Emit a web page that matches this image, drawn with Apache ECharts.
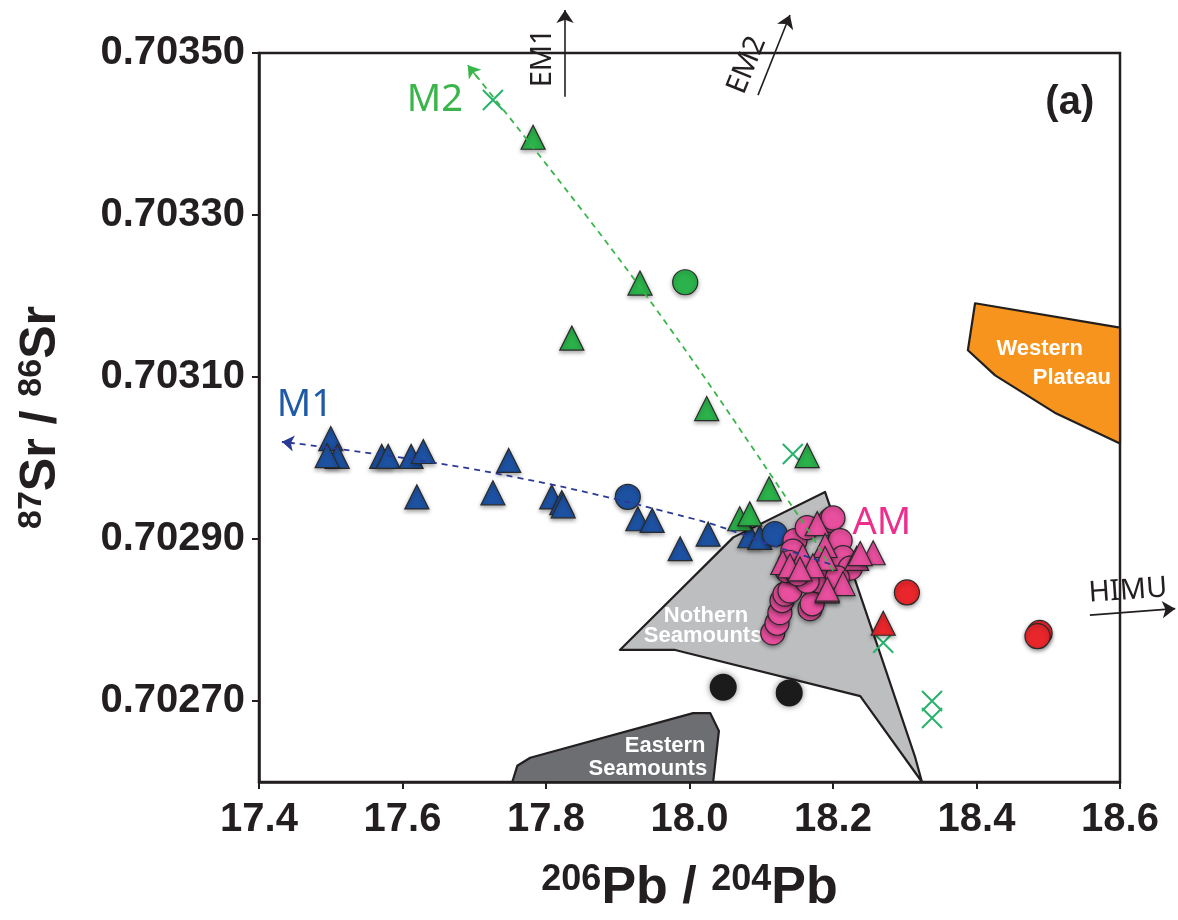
<!DOCTYPE html>
<html>
<head>
<meta charset="utf-8">
<title>Sr-Pb isotopes (a)</title>
<script src="https://cdn.jsdelivr.net/npm/echarts@6/dist/echarts.min.js"></script>
<style>
  html, body { margin: 0; padding: 0; background: #fff; }
  #chart { width: 1178px; height: 920px; }
</style>
</head>
<body>
<div id="chart"></div>
<script>
// axis ticks
const xTicks = [17.4, 17.6, 17.8, 18.0, 18.2, 18.4, 18.6];
const yTicks = [0.7027, 0.7029, 0.7031, 0.7033, 0.7035];

// samples  [206Pb/204Pb, 87Sr/86Sr]
const blueTriangles = [[17.500, 0.703024], [17.509, 0.703002], [17.495, 0.703003], [17.571, 0.703002],
  [17.580, 0.703002], [17.612, 0.703002], [17.629, 0.703008], [17.620, 0.702952], [17.726, 0.702957],
  [17.748, 0.702997], [17.808, 0.702952], [17.822, 0.702945], [17.824, 0.702941], [17.928, 0.702925],
  [17.948, 0.702923], [17.987, 0.702888], [18.026, 0.702906], [18.084, 0.702904], [18.098, 0.702902]];
const blueCircles = [[17.914, 0.702952], [18.119, 0.702906]];
const greenTriangles = [[17.782, 0.703396], [17.931, 0.703216], [17.836, 0.703148], [18.024, 0.703061],
  [18.164, 0.703003], [18.111, 0.702962], [18.070, 0.702925], [18.084, 0.702931]];
const greenCircles = [[17.994, 0.703217]];
const greenCrosses = [[17.726, 0.703442], [18.144, 0.703005], [18.270, 0.702772], [18.338, 0.702700], [18.338, 0.702679]];
const magentaCircles = [[18.116, 0.702784], [18.122, 0.702796], [18.126, 0.702809], [18.129, 0.702824],
  [18.133, 0.702832], [18.140, 0.702836], [18.168, 0.702814], [18.171, 0.702820], [18.147, 0.702898],
  [18.144, 0.702885], [18.140, 0.702871], [18.136, 0.702861], [18.164, 0.702914], [18.196, 0.702923],
  [18.200, 0.702926], [18.210, 0.702898], [18.214, 0.702877], [18.224, 0.702864], [18.186, 0.702857],
  [18.182, 0.702848], [18.164, 0.702848], [18.151, 0.702857], [18.206, 0.702852]];
const magentaTriangles = [[18.178, 0.702919], [18.158, 0.702879], [18.189, 0.702892], [18.189, 0.702876],
  [18.214, 0.702845], [18.192, 0.702836], [18.233, 0.702876], [18.256, 0.702883], [18.238, 0.702882],
  [18.130, 0.702871], [18.140, 0.702867], [18.172, 0.702867], [18.154, 0.702863], [18.192, 0.702838]];
const redCircles = [[18.303, 0.702834], [18.488, 0.702784], [18.485, 0.702780]];
const redTriangles = [[18.270, 0.702796]];
const blackCircles = [[18.047, 0.702717], [18.139, 0.702710]];

// fields
const westernPlateau = [[18.398, 0.703191], [18.600, 0.703161], [18.600, 0.703018], [18.509, 0.703056],
  [18.426, 0.703102], [18.388, 0.703133]];
const northernSeamounts = [[17.903, 0.702763], [18.061, 0.702902], [18.189, 0.702958], [18.266, 0.702758],
  [18.314, 0.702632], [18.324, 0.702600], [18.238, 0.702706], [17.980, 0.702763]];
const easternSeamounts = [[17.753, 0.702600], [17.760, 0.702620], [17.778, 0.702630], [18.005, 0.702685],
  [18.029, 0.702685], [18.041, 0.702663], [18.033, 0.702600]];

// mixing trends and end-member arrows
const m1Trend = [[18.196, 0.702869], [18.126, 0.702889], [18.005, 0.702925], [17.712, 0.702984], [17.432, 0.703020]];
const m2Trend = [[18.200, 0.702861], [18.154, 0.702926], [17.931, 0.703211], [17.691, 0.703485]];
const em1Arrow = [[17.8265, 0.703446], [17.8265, 0.703553]];
const em2Arrow = [[18.0955, 0.703448], [18.140, 0.703547]];
const himuArrow = [[18.558, 0.702806], [18.677, 0.702814]];

// text annotations
const noteText = ['M1', 'M2', 'AM', 'EM1', 'EM2', 'HIMU', '(a)'];
const notePos = [[17.464, 0.703065], [17.645, 0.703442], [18.268, 0.702920], [17.796, 0.703494],
  [18.080, 0.703485], [18.611, 0.702836], [18.530, 0.703438]];
const fieldText = ['Western', 'Plateau', 'Nothern', 'Seamounts', 'Eastern', 'Seamounts'];
const fieldPos = [[18.488, 0.703135], [18.533, 0.703099], [18.023, 0.702805], [18.019, 0.702780],
  [17.966, 0.702644], [17.942, 0.702616]];

const ink = '#231f20';
const fontA = 'Liberation Sans, Arial, sans-serif';
const fontB = 'Noto Sans, Open Sans, sans-serif';

const chart = echarts.init(document.getElementById('chart'));

function markerStyle(color) {
  return {
    color: color,
    opacity: 1,
    borderColor: '#2a2a2a',
    borderWidth: 1.2,
    shadowBlur: 4,
    shadowOffsetY: 2,
    shadowColor: 'rgba(0,0,0,0.35)'
  };
}

function scatter(name, data, symbol, size, color, z) {
  return {
    name: name, type: 'scatter', data: data, symbol: symbol, symbolSize: size,
    itemStyle: markerStyle(color), z: z, silent: true
  };
}

function field(name, pts, fill) {
  return {
    name: name, type: 'custom', data: [pts[0]], z: 1, silent: true,
    renderItem: function (params, api) {
      return {
        type: 'polygon',
        shape: { points: pts.map(function (p) { return api.coord(p); }) },
        style: { fill: fill, stroke: ink, lineWidth: 2.2, lineJoin: 'round' }
      };
    }
  };
}

// arrowhead drawn on a tiny last piece of a trend
function arrowHead(trend, color, size) {
  const tip = trend[trend.length - 1];
  const prev = trend[trend.length - 2];
  const tail = [tip[0] + (prev[0] - tip[0]) * 0.06, tip[1] + (prev[1] - tip[1]) * 0.06];
  return {
    type: 'lines', coordinateSystem: 'cartesian2d', z: 6, silent: true,
    symbol: ['none', 'arrow'], symbolSize: size,
    lineStyle: { color: color, width: 1.6, opacity: 1 },
    data: [{ coords: [tail, tip] }]
  };
}

function arrow(pts) {
  return {
    type: 'lines', coordinateSystem: 'cartesian2d', z: 6, silent: true, clip: false,
    symbol: ['none', 'arrow'], symbolSize: 13,
    lineStyle: { color: ink, width: 1.6, opacity: 1 },
    data: [{ coords: pts }]
  };
}

function trend(pts, color) {
  return {
    type: 'line', data: pts, smooth: 0.4, showSymbol: false, z: 5, silent: true,
    lineStyle: { color: color, width: 1.8, type: [6, 5] }
  };
}

const noteStyle = [
  { color: '#1f5aa6', fontSize: 38, fontFamily: fontB },
  { color: '#39b54a', fontSize: 38, fontFamily: fontB },
  { color: '#ec2f8c', fontSize: 38, fontFamily: fontB },
  { color: ink, fontSize: 29, fontFamily: fontB, rotate: 90 },
  { color: ink, fontSize: 29, fontFamily: fontB, rotate: 68 },
  { color: ink, fontSize: 29, fontFamily: fontB, rotate: 4 },
  { color: ink, fontSize: 40, fontFamily: fontA, fontWeight: 'bold' }
];

const notes = noteText.map(function (t, i) {
  return {
    value: notePos[i],
    label: Object.assign({ show: true, position: 'inside', formatter: t, opacity: 1 }, noteStyle[i])
  };
});

const fieldNotes = fieldText.map(function (t, i) {
  return {
    value: fieldPos[i],
    label: { show: true, position: 'inside', formatter: t, color: '#fff', fontSize: 22, opacity: 1,
      fontWeight: 'bold', fontFamily: fontA }
  };
});

const option = {
  backgroundColor: '#fff',
  animation: false,
  grid: { left: 259, right: 58, top: 53, bottom: 138, show: true, borderColor: ink, borderWidth: 2.5 },
  xAxis: {
    type: 'value', min: 17.4, max: 18.6, interval: 0.2,
    name: '{sup|206}{big|Pb / }{sup|204}{big|Pb}',
    nameLocation: 'middle', nameGap: 80,
    nameTextStyle: {
      rich: {
        sup: { fontSize: 36, fontWeight: 'bold', fontFamily: fontA, color: ink, verticalAlign: 'top', lineHeight: 54 },
        big: { fontSize: 52, fontWeight: 'bold', fontFamily: fontA, color: ink, lineHeight: 54 }
      }
    },
    axisLine: { show: true, lineStyle: { color: ink, width: 2.5 } },
    axisTick: { show: true, inside: false, length: 7, lineStyle: { color: ink, width: 2 } },
    axisLabel: { fontSize: 40, fontWeight: 'bold', fontFamily: fontA, color: ink, margin: 18,
      customValues: xTicks, formatter: function (v) { return v.toFixed(1); } },
    splitLine: { show: false }
  },
  yAxis: {
    type: 'value', min: 0.7026, max: 0.7035,
    name: '{sup|87}{big|Sr / }{sup|86}{big|Sr}',
    nameLocation: 'middle', nameRotate: 90, nameGap: 192,
    nameTextStyle: {
      rich: {
        sup: { fontSize: 34, fontWeight: 'bold', fontFamily: fontA, color: ink, verticalAlign: 'top', lineHeight: 52 },
        big: { fontSize: 50, fontWeight: 'bold', fontFamily: fontA, color: ink, lineHeight: 52 }
      }
    },
    axisLine: { show: true, lineStyle: { color: ink, width: 2.5 } },
    axisTick: { show: true, inside: false, length: 7, lineStyle: { color: ink, width: 2 }, customValues: yTicks },
    axisLabel: { fontSize: 40, fontWeight: 'bold', fontFamily: fontA, color: ink, margin: 14,
      customValues: yTicks, formatter: function (v) { return v.toFixed(5); } },
    splitLine: { show: false }
  },
  series: [
    field('Western Plateau', westernPlateau, '#f7941d'),
    field('Northern Seamounts', northernSeamounts, '#bcbec0'),
    field('Eastern Seamounts', easternSeamounts, '#6d6e71'),
    {
      type: 'scatter', data: fieldNotes, symbolSize: 1, itemStyle: { color: 'transparent', opacity: 1 }, z: 2, silent: true
    },
    {
      name: 'black', type: 'scatter', data: blackCircles, symbolSize: 27, z: 3, silent: true,
      itemStyle: { color: '#1b1b1b', opacity: 1, shadowBlur: 6, shadowColor: 'rgba(0,0,0,0.5)' }
    },
    {
      name: 'cross', type: 'scatter', data: greenCrosses, symbol: 'path://M0,0L20,20M20,0L0,20', symbolSize: 20,
      z: 3, silent: true, itemStyle: { color: '#27b36b', opacity: 1, borderColor: '#27b36b', borderWidth: 2 }
    },
    scatter('blue tri', blueTriangles, 'triangle', 24, '#1d52a3', 4),
    scatter('blue circ', blueCircles, 'circle', 25, '#1d52a3', 4),
    scatter('green tri', greenTriangles, 'triangle', 24, '#2bb24a', 4),
    scatter('green circ', greenCircles, 'circle', 25, '#2bb24a', 4),
    scatter('red circ', redCircles, 'circle', 25, '#e8262b', 4),
    scatter('red tri', redTriangles, 'triangle', 24, '#e8262b', 4),
    scatter('magenta circ', magentaCircles, 'circle', 24, '#e84f9e', 4),
    scatter('magenta tri', magentaTriangles, 'triangle', 24, '#e84f9e', 4),
    trend(m1Trend, '#2b3a94'),
    trend(m2Trend, '#39b54a'),
    arrowHead(m1Trend, '#2b3a94', 12),
    arrowHead(m2Trend, '#39b54a', 12),
    arrow(em1Arrow),
    arrow(em2Arrow),
    arrow(himuArrow),
    {
      type: 'scatter', data: notes, symbolSize: 1, itemStyle: { color: 'transparent', opacity: 1 }, z: 10, silent: true, clip: false
    }
  ]
};

chart.setOption(option);
</script>
</body>
</html>
